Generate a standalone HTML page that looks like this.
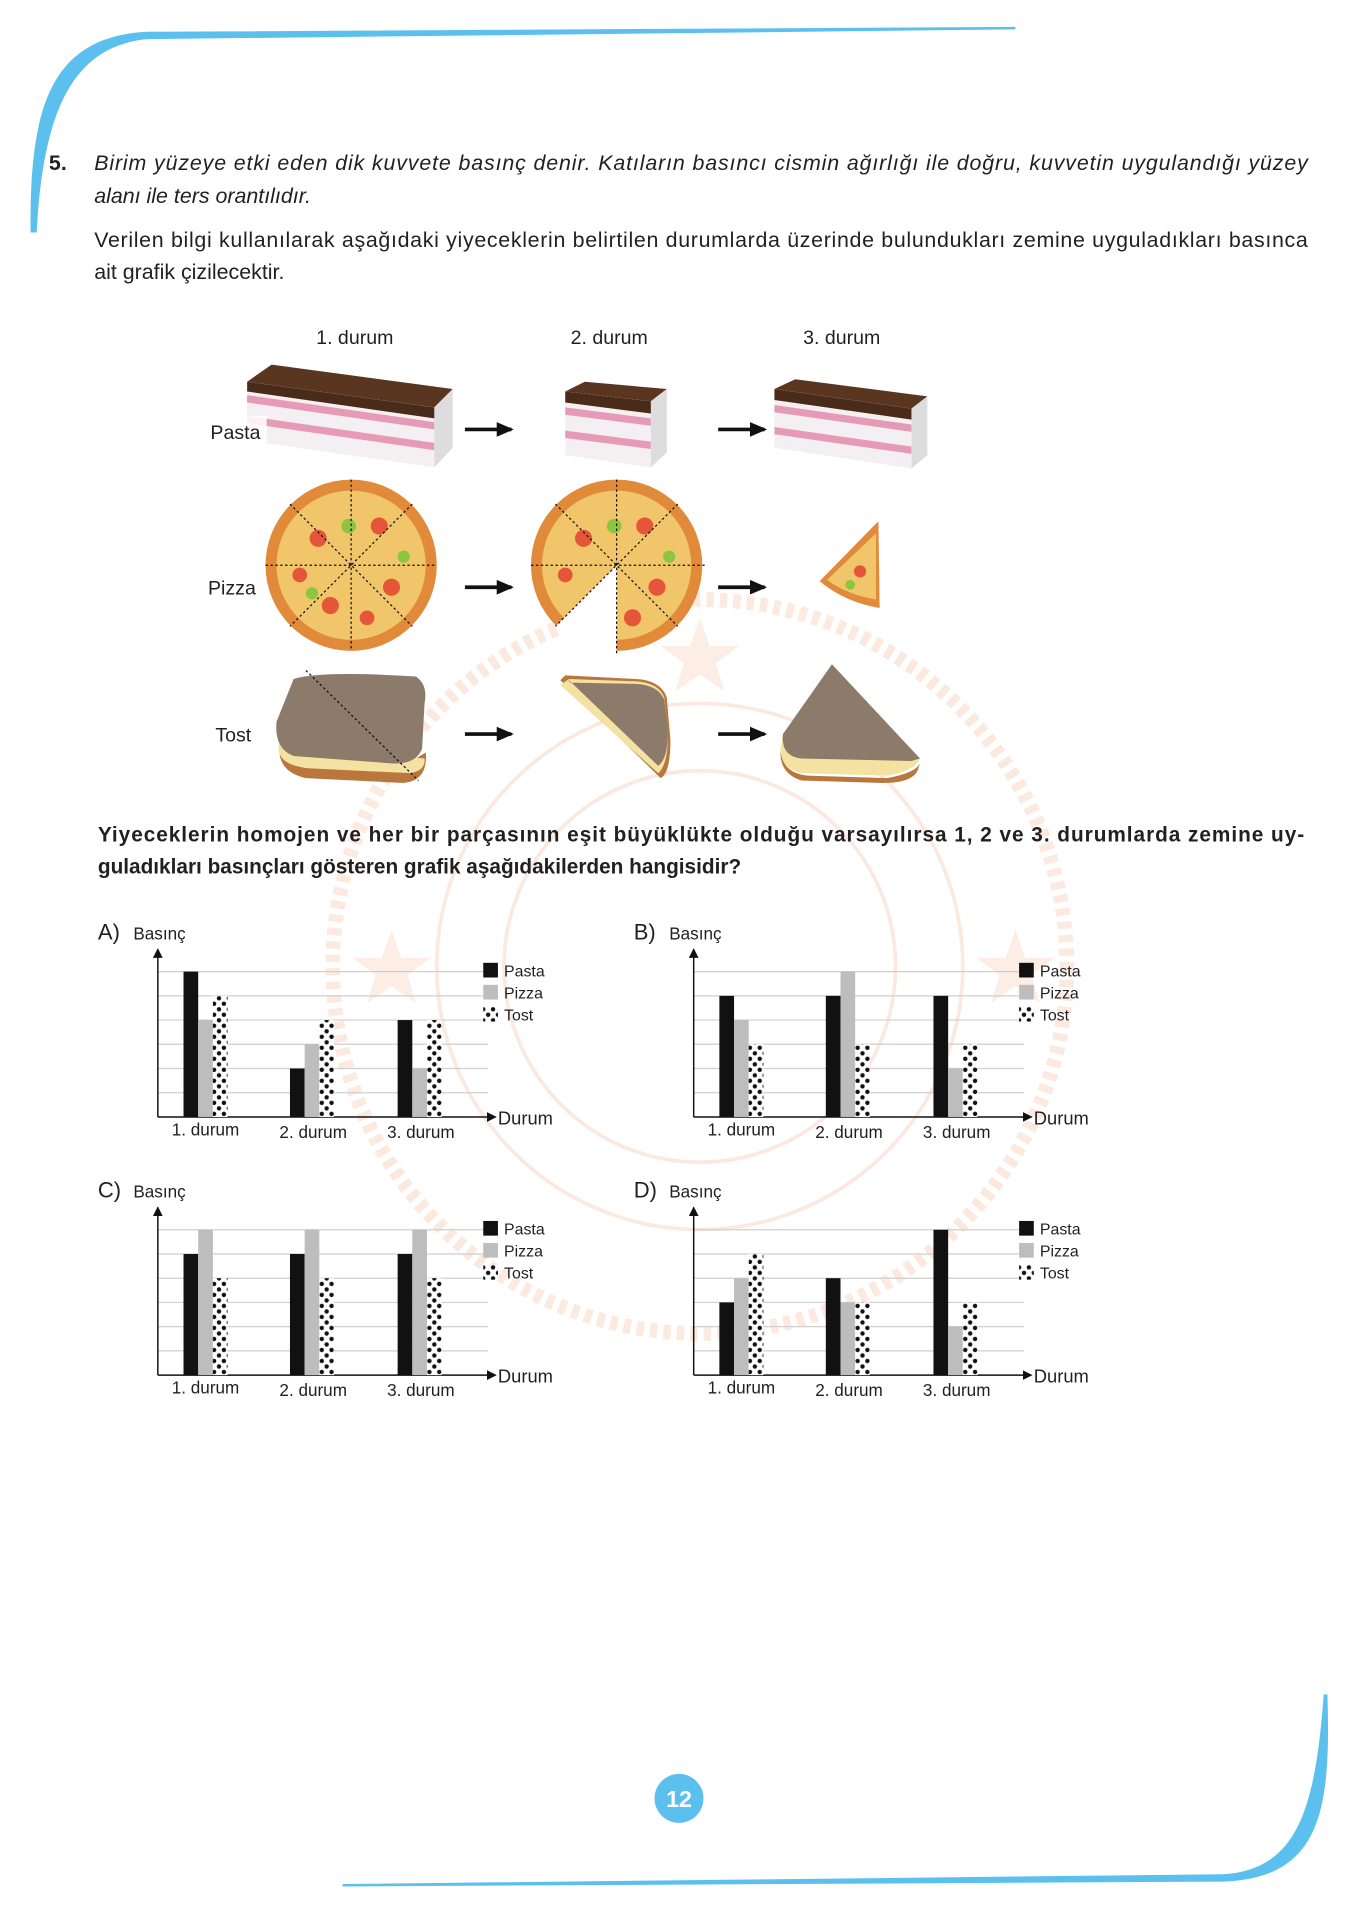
<!DOCTYPE html>
<html><head><meta charset="utf-8"><style>
html,body{margin:0;padding:0;background:#fff;}
svg{display:block;}
text{font-family:"Liberation Sans",sans-serif;fill:#231f20;}
</style></head><body>
<svg width="1358" height="1920" viewBox="0 0 1110 1569.4" xmlns="http://www.w3.org/2000/svg">
<defs>
<pattern id="dots" width="8" height="9" patternUnits="userSpaceOnUse">
<rect width="8" height="9" fill="#fff"/><circle cx="2" cy="2" r="1.8" fill="#111"/><circle cx="6" cy="6.5" r="1.8" fill="#111"/>
</pattern>
<marker id="ar" markerUnits="userSpaceOnUse" markerWidth="8" markerHeight="8" refX="7" refY="4" orient="auto"><path d="M0,0 L8,4 L0,8 z" fill="#111"/></marker>
<marker id="ar2" markerUnits="userSpaceOnUse" markerWidth="14" markerHeight="14" refX="12" refY="7" orient="auto"><path d="M0,1 L14,7 L0,13 z" fill="#111"/></marker>
<g id="axes">
<g stroke="#cfcfcf" stroke-width="1">
<line x1="0" y1="-19.8" x2="270" y2="-19.8"/><line x1="0" y1="-39.6" x2="270" y2="-39.6"/><line x1="0" y1="-59.4" x2="270" y2="-59.4"/><line x1="0" y1="-79.2" x2="270" y2="-79.2"/><line x1="0" y1="-99" x2="270" y2="-99"/><line x1="0" y1="-118.8" x2="270" y2="-118.8"/>
</g>
<line x1="0" y1="0" x2="0" y2="-137" stroke="#111" stroke-width="1.2" marker-end="url(#ar)"/>
<line x1="0" y1="0" x2="276" y2="0" stroke="#111" stroke-width="1.2" marker-end="url(#ar)"/>
<text x="39" y="15" font-size="14" text-anchor="middle">1. durum</text>
<text x="127" y="17" font-size="14" text-anchor="middle">2. durum</text>
<text x="215" y="17" font-size="14" text-anchor="middle">3. durum</text>
<text x="278" y="6" font-size="15">Durum</text>
<text x="-20" y="-145" font-size="14">Basınç</text>
<rect x="266" y="-126" width="12" height="12" fill="#111"/><text x="283" y="-115" font-size="13">Pasta</text>
<rect x="266" y="-108" width="12" height="12" fill="#bdbdbd"/><text x="283" y="-97" font-size="13">Pizza</text>
<rect x="266" y="-90" width="12" height="12" fill="url(#dots)"/><text x="283" y="-79" font-size="13">Tost</text>
</g>
</defs>

<!-- watermark -->
<g fill="none" stroke="#f7c9b2" opacity="0.4">
<circle cx="572" cy="790" r="300" stroke-width="12" stroke-dasharray="6 5"/>
<circle cx="572" cy="790" r="215" stroke-width="3"/>
<circle cx="572" cy="790" r="160" stroke-width="3"/>
</g>
<g fill="#f9d6c6" opacity="0.45">
<polygon points="572,505 580,528 604,528 585,542 592,565 572,551 552,565 559,542 540,528 564,528"/>
<polygon points="320,760 328,783 352,783 333,797 340,820 320,806 300,820 307,797 288,783 312,783"/>
<polygon points="830,760 838,783 862,783 843,797 850,820 830,806 810,820 817,797 798,783 822,783"/>
</g>

<!-- blue frame curves -->
<path d="M25,190 C24,90 40,30 120,26 L830,22 L830,24 L120,32 C60,38 35,90 30,190 Z" fill="#5bc0ee"/>
<path d="M1085,1385 C1088,1480 1080,1535 1000,1538 L280,1542 L280,1540 L1000,1532 C1060,1528 1075,1480 1082,1385 Z" fill="#5bc0ee"/>

<!-- text -->
<text x="40" y="139" font-size="17.5" font-weight="bold">5.</text>
<text x="77" y="139" font-size="17.5" font-style="italic" textLength="992" lengthAdjust="spacing">Birim yüzeye etki eden dik kuvvete basınç denir. Katıların basıncı cismin ağırlığı ile doğru, kuvvetin uygulandığı yüzey</text>
<text x="77" y="166" font-size="17.5" font-style="italic">alanı ile ters orantılıdır.</text>
<text x="77" y="202" font-size="17.5" textLength="992" lengthAdjust="spacing">Verilen bilgi kullanılarak aşağıdaki yiyeceklerin belirtilen durumlarda üzerinde bulundukları zemine uyguladıkları basınca</text>
<text x="77" y="228" font-size="17.5">ait grafik çizilecektir.</text>

<text x="290" y="281" font-size="16" text-anchor="middle">1. durum</text>
<text x="498" y="281" font-size="16" text-anchor="middle">2. durum</text>
<text x="688" y="281" font-size="16" text-anchor="middle">3. durum</text>

<!-- arrows -->
<g stroke="#111" stroke-width="3" marker-end="url(#ar2)">
<line x1="380" y1="351" x2="418" y2="351"/><line x1="587" y1="351" x2="625" y2="351"/>
<line x1="380" y1="480" x2="418" y2="480"/><line x1="587" y1="480" x2="625" y2="480"/>
<line x1="380" y1="600" x2="418" y2="600"/><line x1="587" y1="600" x2="625" y2="600"/>
</g>

<!-- pasta -->
<g>
<polygon points="202,312 222,298 370,318 355,333" fill="#5a3520"/>
<polygon points="202,312 355,333 355,382 202,360" fill="#f4f0f2"/>
<polygon points="202,323 355,345 355,351 202,329" fill="#e79ab8"/>
<polygon points="202,340 355,362 355,368 202,346" fill="#e79ab8"/>
<polygon points="355,333 370,318 370,366 355,382" fill="#ddd"/>
<polygon points="202,312 355,333 355,342 202,320" fill="#4a2a18"/>
</g>
<g>
<polygon points="462,320 478,312 545,318 532,328" fill="#5a3520"/>
<polygon points="462,320 532,328 532,382 462,372" fill="#f4f0f2"/>
<polygon points="462,333 532,342 532,348 462,339" fill="#e79ab8"/>
<polygon points="462,352 532,361 532,367 462,358" fill="#e79ab8"/>
<polygon points="532,328 545,318 545,370 532,382" fill="#ddd"/>
<polygon points="462,320 532,328 532,338 462,329" fill="#4a2a18"/>
</g>
<g>
<polygon points="633,318 650,310 758,324 745,334" fill="#5a3520"/>
<polygon points="633,318 745,334 745,383 633,366" fill="#f4f0f2"/>
<polygon points="633,331 745,347 745,353 633,337" fill="#e79ab8"/>
<polygon points="633,349 745,365 745,371 633,355" fill="#e79ab8"/>
<polygon points="745,334 758,324 758,372 745,383" fill="#ddd"/>
<polygon points="633,318 745,334 745,343 633,327" fill="#4a2a18"/>
</g>
<rect x="170" y="340" width="48" height="24" fill="#fff" opacity="0.85"/>
<text x="172" y="359" font-size="16">Pasta</text>
<text x="170" y="486" font-size="16">Pizza</text>
<text x="176" y="606" font-size="16">Tost</text>

<!-- pizza -->
<g>
<circle cx="287" cy="462" r="70" fill="#e08a3a"/><circle cx="287" cy="462" r="61" fill="#f1c66a"/>
<g fill="#e5553a"><circle cx="260" cy="440" r="7"/><circle cx="310" cy="430" r="7"/><circle cx="320" cy="480" r="7"/><circle cx="270" cy="495" r="7"/><circle cx="245" cy="470" r="6"/><circle cx="300" cy="505" r="6"/></g>
<g fill="#8cc63f"><circle cx="285" cy="430" r="6"/><circle cx="330" cy="455" r="5"/><circle cx="255" cy="485" r="5"/></g>
<g stroke="#111" stroke-dasharray="2 2" stroke-width="1"><line x1="287" y1="392" x2="287" y2="532"/><line x1="217" y1="462" x2="357" y2="462"/><line x1="237" y1="412" x2="337" y2="512"/><line x1="337" y1="412" x2="237" y2="512"/></g>
</g>
<g>
<circle cx="504" cy="462" r="70" fill="#e08a3a"/>
<circle cx="504" cy="462" r="61" fill="#f1c66a"/>
<path d="M504,462 L454,512 A70,70 0 0,0 504,534 Z" fill="#fff"/>
<g fill="#e5553a"><circle cx="477" cy="440" r="7"/><circle cx="527" cy="430" r="7"/><circle cx="537" cy="480" r="7"/><circle cx="517" cy="505" r="7"/><circle cx="462" cy="470" r="6"/></g>
<g fill="#8cc63f"><circle cx="502" cy="430" r="6"/><circle cx="547" cy="455" r="5"/></g>
<g stroke="#111" stroke-dasharray="2 2" stroke-width="1"><line x1="504" y1="392" x2="504" y2="535"/><line x1="434" y1="462" x2="577" y2="462"/><line x1="454" y1="412" x2="554" y2="512"/><line x1="554" y1="412" x2="454" y2="512"/></g>
</g>
<g>
<path d="M718,426 L670,475 Q690,492 719,497 Z" fill="#e08a3a"/>
<path d="M716,436 L676,474 Q692,486 716,490 Z" fill="#f1c66a"/>
<circle cx="703" cy="467" r="5" fill="#e5553a"/><circle cx="695" cy="478" r="4" fill="#8cc63f"/>
</g>

<!-- tost -->
<g>
<path d="M230,600 Q222,630 250,636 L330,640 Q350,638 348,615 L340,620 Z" fill="#b9773e"/>
<path d="M228,608 Q225,625 252,628 L335,632 Q348,630 347,620 Z" fill="#f3e2a2"/>
<path d="M240,555 Q262,548 340,553 Q350,560 347,575 L345,612 Q340,625 320,624 L240,618 Q224,612 226,590 Z" fill="#8c7a6a"/>
<line x1="250" y1="548" x2="342" y2="638" stroke="#111" stroke-dasharray="2 2"/>
</g>
<g>
<path d="M458,556 L540,636 Q548,632 548,605 L545,570 Q540,556 520,555 L462,552 Z" fill="#b9773e"/>
<path d="M458,560 L538,632 Q546,625 546,600 L543,570 Q538,558 520,557 L465,555 Z" fill="#f3e2a2"/>
<path d="M464,555 L538,626 Q546,620 546,598 L543,572 Q538,560 520,559 L466,558 Z" fill="#8c7a6a"/>
</g>
<g>
<path d="M680,543 L752,620 Q745,630 720,632 L650,630 Q636,622 640,600 Z" fill="#8c7a6a"/>
<path d="M640,600 Q638,618 655,620 L745,622 L752,620 Q748,630 725,634 L655,632 Q638,628 638,612 Z" fill="#f3e2a2"/>
<path d="M638,614 Q640,632 660,634 L725,636 Q748,632 752,624 L750,630 Q745,640 722,640 L655,638 Q637,632 638,614 Z" fill="#b9773e"/>
</g>

<text x="80" y="688" font-size="17" font-weight="bold" textLength="986" lengthAdjust="spacing">Yiyeceklerin homojen ve her bir parçasının eşit büyüklükte olduğu varsayılırsa 1, 2 ve 3. durumlarda zemine uy-</text>
<text x="80" y="714" font-size="17" font-weight="bold">guladıkları basınçları gösteren grafik aşağıdakilerden hangisidir?</text>

<!-- Chart A -->
<g transform="translate(129,913)">
<use href="#axes"/>
<text x="-49" y="-145" font-size="18">A)</text>
<rect x="21" y="-118.8" width="12" height="118.8" fill="#111"/><rect x="33" y="-79.2" width="12" height="79.2" fill="#bdbdbd"/><rect x="45" y="-99" width="12" height="99" fill="url(#dots)"/>
<rect x="108" y="-39.6" width="12" height="39.6" fill="#111"/><rect x="120" y="-59.4" width="12" height="59.4" fill="#bdbdbd"/><rect x="132" y="-79.2" width="12" height="79.2" fill="url(#dots)"/>
<rect x="196" y="-79.2" width="12" height="79.2" fill="#111"/><rect x="208" y="-39.6" width="12" height="39.6" fill="#bdbdbd"/><rect x="220" y="-79.2" width="12" height="79.2" fill="url(#dots)"/>
</g>
<!-- Chart B -->
<g transform="translate(567,913)">
<use href="#axes"/>
<text x="-49" y="-145" font-size="18">B)</text>
<rect x="21" y="-99" width="12" height="99" fill="#111"/><rect x="33" y="-79.2" width="12" height="79.2" fill="#bdbdbd"/><rect x="45" y="-59.4" width="12" height="59.4" fill="url(#dots)"/>
<rect x="108" y="-99" width="12" height="99" fill="#111"/><rect x="120" y="-118.8" width="12" height="118.8" fill="#bdbdbd"/><rect x="132" y="-59.4" width="12" height="59.4" fill="url(#dots)"/>
<rect x="196" y="-99" width="12" height="99" fill="#111"/><rect x="208" y="-39.6" width="12" height="39.6" fill="#bdbdbd"/><rect x="220" y="-59.4" width="12" height="59.4" fill="url(#dots)"/>
</g>
<!-- Chart C -->
<g transform="translate(129,1124)">
<use href="#axes"/>
<text x="-49" y="-145" font-size="18">C)</text>
<rect x="21" y="-99" width="12" height="99" fill="#111"/><rect x="33" y="-118.8" width="12" height="118.8" fill="#bdbdbd"/><rect x="45" y="-79.2" width="12" height="79.2" fill="url(#dots)"/>
<rect x="108" y="-99" width="12" height="99" fill="#111"/><rect x="120" y="-118.8" width="12" height="118.8" fill="#bdbdbd"/><rect x="132" y="-79.2" width="12" height="79.2" fill="url(#dots)"/>
<rect x="196" y="-99" width="12" height="99" fill="#111"/><rect x="208" y="-118.8" width="12" height="118.8" fill="#bdbdbd"/><rect x="220" y="-79.2" width="12" height="79.2" fill="url(#dots)"/>
</g>
<!-- Chart D -->
<g transform="translate(567,1124)">
<use href="#axes"/>
<text x="-49" y="-145" font-size="18">D)</text>
<rect x="21" y="-59.4" width="12" height="59.4" fill="#111"/><rect x="33" y="-79.2" width="12" height="79.2" fill="#bdbdbd"/><rect x="45" y="-99" width="12" height="99" fill="url(#dots)"/>
<rect x="108" y="-79.2" width="12" height="79.2" fill="#111"/><rect x="120" y="-59.4" width="12" height="59.4" fill="#bdbdbd"/><rect x="132" y="-59.4" width="12" height="59.4" fill="url(#dots)"/>
<rect x="196" y="-118.8" width="12" height="118.8" fill="#111"/><rect x="208" y="-39.6" width="12" height="39.6" fill="#bdbdbd"/><rect x="220" y="-59.4" width="12" height="59.4" fill="url(#dots)"/>
</g>

<!-- page number -->
<circle cx="555" cy="1470" r="20" fill="#5bc0ee"/>
<text x="555" y="1477" font-size="19" font-weight="bold" text-anchor="middle" style="fill:#fff">12</text>
</svg>
</body></html>
